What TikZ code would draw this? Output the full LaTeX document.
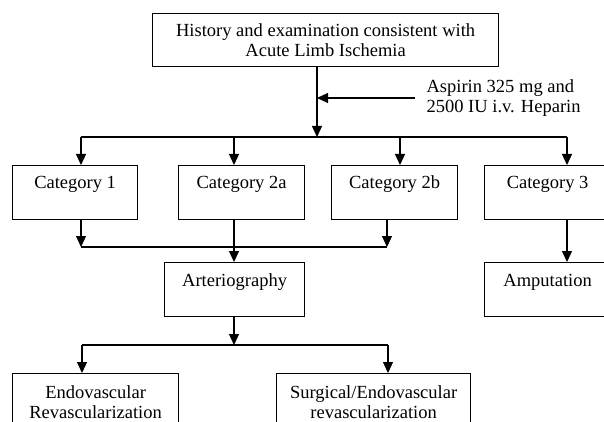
\documentclass[tikz,border=0pt]{standalone}
\usepackage{fontspec}
\setmainfont{Liberation Serif}
\usetikzlibrary{arrows.meta}

\begin{document}
\begin{tikzpicture}[x=1pt,y=-1pt,line width=1.2pt,
    kasten/.style={draw, inner sep=0pt, anchor=north west, font=\fontsize{18.5}{20}\selectfont},
    kat/.style={kasten, minimum width=126pt, text height=23pt, text depth=31pt},
    pfeil/.style={-{Triangle[length=11pt,width=10pt]}},
]

\useasboundingbox (0,0) rectangle (604,422);
\clip (0,0) rectangle (604,422);

\node[kasten, align=center, minimum width=346pt, minimum height=53pt] (hist) at (152,13) {History and examination consistent with\\Acute Limb Ischemia};
\node[inner sep=0pt, anchor=west, align=left, font=\fontsize{18.5}{20}\selectfont] (asp) at (426,98) {Aspirin 325 mg and\\2500 IU i.v. Heparin};

\node[kat, minimum width=125pt] (c1) at (12,165) {Category 1};
\node[kat] (c2a) at (178,165) {Category 2a};
\node[kat] (c2b) at (331,165) {Category 2b};
\node[kat] (c3) at (484,165) {Category 3};

\node[kasten, minimum width=140pt, text height=24pt, text depth=30pt] (art) at (164,262) {Arteriography};
\node[kasten, minimum width=126pt, text height=24pt, text depth=30pt] (amp) at (484,262) {Amputation};

\node[kasten, align=center, minimum width=166pt, minimum height=57pt] (endo) at (12,373) {Endovascular\\Revascularization};
\node[kasten, align=center, minimum width=194pt, minimum height=57pt] (surg) at (276,373) {Surgical/Endovascular\\revascularization};

% junctions
\coordinate (split) at (317,137);
\coordinate (t1) at (81,137);
\coordinate (t2) at (234,137);
\coordinate (t3) at (400,137);
\coordinate (t4) at (567,137);
\coordinate (b1) at (81,247);
\coordinate (b2) at (387,247);
\coordinate (d0) at (234,345);
\coordinate (d1) at (82,345);
\coordinate (d2) at (388,345);

\draw[pfeil] (hist.south -| split) -- (split);
\draw[pfeil] ([xshift=-11pt]asp.west) -- (asp.west -| split);

\draw (t1) -- (t4);
\draw[pfeil] (t1) -- (t1 |- c1.north);
\draw[pfeil] (t2) -- (t2 |- c2a.north);
\draw[pfeil] (t3) -- (t3 |- c2b.north);
\draw[pfeil] (t4) -- (t4 |- c3.north);

\draw[pfeil] (c1.south -| b1) -- (b1);
\draw[pfeil] (c2b.south -| b2) -- (b2);
\draw (b1) -- (b2);
\draw[pfeil] (c2a.south -| t2) -- (t2 |- art.north);
\draw[pfeil] (c3.south -| t4) -- (t4 |- amp.north);

\draw[pfeil] (art.south -| d0) -- (d0);
\draw (d1) -- (d2);
\draw[pfeil] (d1) -- (d1 |- endo.north);
\draw[pfeil] (d2) -- (d2 |- surg.north);

\end{tikzpicture}
\end{document}
